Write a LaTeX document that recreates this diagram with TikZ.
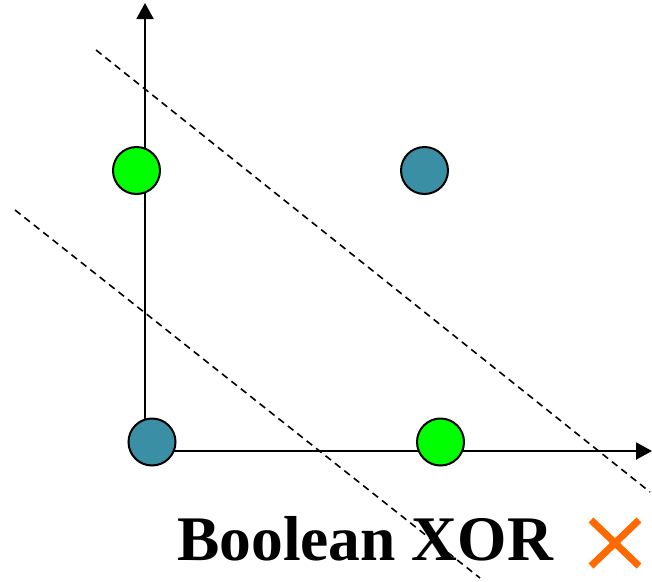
\documentclass[tikz,border=0pt]{standalone}
\usepackage{fontspec}
\setmainfont{Liberation Serif}
\usetikzlibrary{arrows.meta}
\definecolor{ptgreen}{RGB}{0,255,0}
\definecolor{ptteal}{RGB}{58,143,165}
\definecolor{xorange}{RGB}{255,106,0}
\begin{document}
\begin{tikzpicture}[x=1pt,y=-1pt,
  axis/.style={line width=2pt,-{Triangle[width=17pt,length=16pt]}},
  sep/.style={line width=1.6pt,dash pattern=on 7pt off 5pt},
  dot/.style={circle,draw=black,line width=2pt,minimum size=47pt,inner sep=0pt},
  crossline/.style={xorange,line width=7pt}]
\useasboundingbox (0,0) rectangle (652,581);
% separating lines
\coordinate (a1) at (96,50);
\coordinate (a2) at (650,492);
\coordinate (b1) at (15,210);
\coordinate (b2) at (480,578);
\draw[sep] (a1) -- (a2);
\draw[sep] (b1) -- (b2);
% axes
\coordinate (o) at (145,451);
\coordinate (ytip) at (145,3);
\coordinate (xtip) at (652,451);
\draw[axis] (145,442) -- (ytip);
\draw[axis] (152,451) -- (xtip);
% points
\node[dot,fill=ptgreen] (p01) at (136.5,170.5) {};
\node[dot,fill=ptteal] (p11) at (424.5,170.5) {};
\node[dot,fill=ptteal] (p00) at (152,442) {};
\node[dot,fill=ptgreen] (p10) at (440.5,442) {};
% label
\node[anchor=base west,inner sep=0pt,font=\fontsize{63.5}{70}\selectfont\bfseries] (lbl) at (177,560) {Boolean XOR};
% cross
\coordinate (c1) at (591,520);
\coordinate (c2) at (639,566);
\coordinate (c3) at (639,520);
\coordinate (c4) at (591,566);
\draw[crossline] (c1) -- (c2);
\draw[crossline] (c3) -- (c4);
\end{tikzpicture}
\end{document}
